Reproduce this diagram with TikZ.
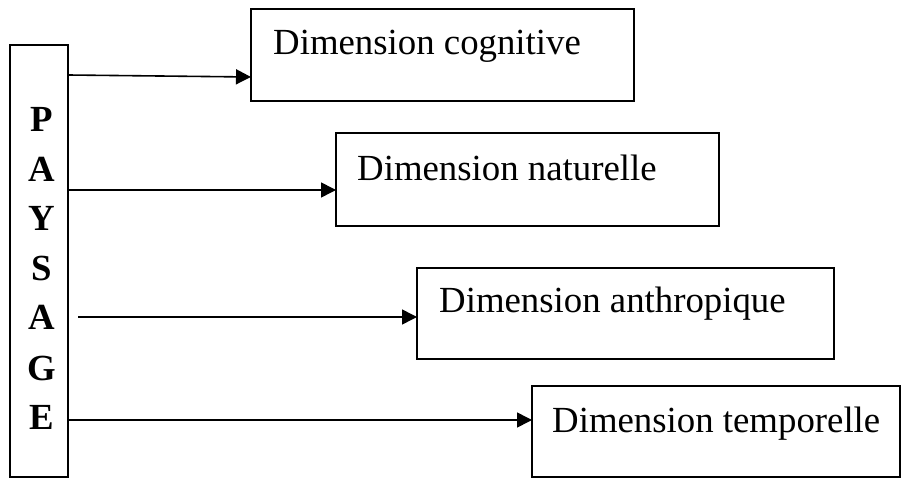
\documentclass[tikz,border=0pt]{standalone}
\usepackage{fontspec}
\setmainfont{Liberation Serif}
\usetikzlibrary{arrows.meta}
\begin{document}
\begin{tikzpicture}[x=1bp,y=-1bp,
  box/.style={draw, line width=1.6bp, inner sep=0pt, outer sep=0pt, anchor=north west},
  lbl/.style={anchor=base west, inner sep=0pt, font=\fontsize{36.8bp}{44bp}\selectfont},
  letter/.style={anchor=base, inner sep=0pt, font=\fontsize{36.8bp}{44bp}\selectfont\bfseries},
  arr/.style={line width=1.6bp, -{Triangle[length=15bp,width=15bp]}}]
\useasboundingbox (0,0) rectangle (902,478);
% left box
\node[box, minimum width=58bp, minimum height=432bp] (L) at (10,45) {};
\foreach \ch/\yy [count=\i] in {P/132,A/182,Y/231,S/281,A/330,G/380,E/429}
  \node[letter] (l\i) at (42,\yy) {\ch};
% right boxes
\node[box, minimum width=383bp, minimum height=92bp] (b1) at (251,9) {};
\node[box, minimum width=383bp, minimum height=93bp] (b2) at (336,133) {};
\node[box, minimum width=417bp, minimum height=91bp] (b3) at (417,268) {};
\node[box, minimum width=368bp, minimum height=91bp] (b4) at (532,386) {};
\node[lbl] (t1) at (273,55) {Dimension cognitive};
\node[lbl] (t2) at (357,181) {Dimension naturelle};
\node[lbl] (t3) at (439,313) {Dimension anthropique};
\node[lbl] (t4) at (552,432) {Dimension temporelle};
% arrows
\coordinate (s1) at (68,75);
\coordinate (e1) at (251,77);
\coordinate (s2) at (68,190);
\coordinate (s3) at (78,317);
\coordinate (s4) at (68,420);
\draw[arr] (L.east |- s1) -- (b1.west |- e1);
\draw[arr] (L.east |- s2) -- (b2.west |- s2);
\draw[arr] (s3) -- (b3.west |- s3);
\draw[arr] (L.east |- s4) -- (b4.west |- s4);
\end{tikzpicture}
\end{document}
